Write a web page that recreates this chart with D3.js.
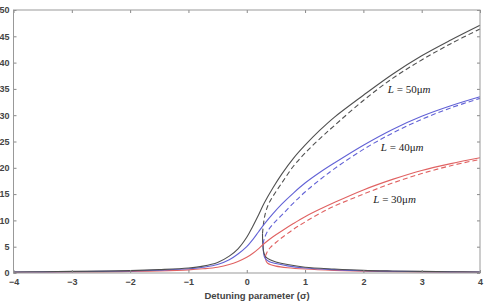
<!DOCTYPE html>
<html>
<head>
<meta charset="utf-8">
<script src="https://cdn.jsdelivr.net/npm/d3@7"></script>
<style>
  body { margin: 0; background: #fff; }
  svg { display: block; }
  .tick text { font-family: "Liberation Sans", Arial, sans-serif; font-weight: bold; font-size: 9px; fill: #444; }
  .tick line { stroke: #888; }
</style>
</head>
<body>
<svg id="chart" width="487" height="305"></svg>
<script>
// upper stable branch (solid)
var sUp = [-4, -3.5, -3, -2.5, -2, -1.5, -1, -0.75, -0.5, -0.3, -0.15, 0, 0.1, 0.2, 0.3, 0.45, 0.6, 0.8, 1, 1.25, 1.5, 2, 2.5, 3, 3.5, 4];
var blackUp = [0.2, 0.25, 0.3, 0.35, 0.45, 0.65, 0.95, 1.3, 2, 3.2, 4.6, 6.8, 8.8, 11, 13.3, 16.2, 18.8, 21.8, 24.3, 27.1, 29.6, 33.8, 37.8, 41.3, 44.3, 47.1];
var blueUp  = [0.18, 0.21, 0.25, 0.3, 0.38, 0.55, 0.8, 1.1, 1.6, 2.5, 3.6, 5, 6.3, 7.8, 9.3, 11.3, 13.1, 15.2, 17.1, 19.1, 20.9, 24.3, 27.3, 29.8, 31.8, 33.5];
var redUp   = [0.12, 0.15, 0.18, 0.22, 0.28, 0.4, 0.6, 0.8, 1.1, 1.6, 2.2, 3, 3.7, 4.6, 5.6, 6.9, 8, 9.4, 10.7, 12.1, 13.4, 15.8, 17.8, 19.5, 20.8, 21.9];

// unstable middle branch (dashed)
var sMidBlack = [0.27, 0.29, 0.32, 0.37, 0.45, 0.6, 0.8, 1, 1.25, 1.5, 2, 2.5, 3, 3.5, 4];
var blackMid  = [7.5, 9.6, 11.4, 13, 14.6, 17.1, 20.3, 22.8, 25.5, 28, 32.8, 37, 40.5, 43.6, 46.4];
var sMidBlue  = [0.28, 0.3, 0.35, 0.45, 0.6, 0.8, 1, 1.25, 1.5, 2, 2.5, 3, 3.5, 4];
var blueMid   = [5.5, 6.5, 7.8, 9.3, 11, 13.3, 15.4, 17.7, 19.8, 23.5, 26.6, 29.2, 31.4, 33.2];
var sMidRed   = [0.32, 0.35, 0.4, 0.5, 0.6, 0.8, 1, 1.25, 1.5, 2, 2.5, 3, 3.5, 4];
var redMid    = [3.2, 4, 4.8, 5.8, 6.7, 8.3, 9.7, 11.3, 12.7, 15, 17.1, 18.9, 20.4, 21.6];

// lower stable branch (solid)
var sLowBlack = [0.27, 0.275, 0.285, 0.3, 0.33, 0.4, 0.5, 0.7, 1, 1.5, 2, 2.5, 3, 3.5, 4];
var blackLow  = [7.5, 5.5, 4.3, 3.6, 3.0, 2.5, 2.1, 1.6, 1.1, 0.75, 0.5, 0.38, 0.3, 0.25, 0.2];
var sLowBlue  = [0.28, 0.284, 0.292, 0.305, 0.34, 0.4, 0.5, 0.7, 1, 1.5, 2, 2.5, 3, 3.5, 4];
var blueLow   = [5.5, 4.4, 3.6, 3.0, 2.5, 2.1, 1.8, 1.35, 0.95, 0.65, 0.44, 0.34, 0.27, 0.22, 0.18];
var sLowRed   = [0.32, 0.325, 0.335, 0.36, 0.4, 0.5, 0.7, 1, 1.5, 2, 2.5, 3, 3.5, 4];
var redLow    = [3.2, 2.6, 2.2, 1.85, 1.6, 1.3, 1.0, 0.75, 0.5, 0.35, 0.27, 0.21, 0.17, 0.14];

var xTicks = [-4, -3, -2, -1, 0, 1, 2, 3, 4];
var yTicks = [0, 5, 10, 15, 20, 25, 30, 35, 40, 45, 50];
var labels = ["50", "40", "30"];
var labelS = [2.42, 2.3, 2.17];
var labelV = [34.2, 23.1, 13.3];

var svg = d3.select("#chart");
var x = d3.scaleLinear().domain([-4, 4]).range([13.5, 480]);
var y = d3.scaleLinear().domain([0, 50]).range([273, 10]);

var colors = { black: "#505050", blue: "#6262d6", red: "#e06262" };

var line = d3.line()
    .x(function(d) { return x(d[0]); })
    .y(function(d) { return y(d[1]); })
    .curve(d3.curveCatmullRom.alpha(0.5));

function pairs(s, v) { return s.map(function(d, i) { return [d, v[i]]; }); }

var series = [
  { s: sLowRed, v: redLow, c: colors.red, dash: null },
  { s: sLowBlue, v: blueLow, c: colors.blue, dash: null },
  { s: sLowBlack, v: blackLow, c: colors.black, dash: null },
  { s: sMidRed, v: redMid, c: colors.red, dash: "5,3" },
  { s: sMidBlue, v: blueMid, c: colors.blue, dash: "5,3" },
  { s: sMidBlack, v: blackMid, c: colors.black, dash: "5,3" },
  { s: sUp, v: redUp, c: colors.red, dash: null },
  { s: sUp, v: blueUp, c: colors.blue, dash: null },
  { s: sUp, v: blackUp, c: colors.black, dash: null }
];

var g = svg.append("g");
series.forEach(function(d) {
  g.append("path")
    .attr("d", line(pairs(d.s, d.v)))
    .attr("fill", "none")
    .attr("stroke", d.c)
    .attr("stroke-width", 1.1)
    .attr("stroke-dasharray", d.dash);
});

// axes (box with inward ticks on all sides)
svg.append("g").attr("transform", "translate(0,273)")
  .call(d3.axisBottom(x).tickValues(xTicks).tickSizeInner(-3).tickSizeOuter(0).tickPadding(6))
  .call(function(a) { a.select(".domain").remove(); });
svg.append("g").attr("transform", "translate(0,10)")
  .call(d3.axisTop(x).tickValues(xTicks).tickSizeInner(-3).tickSizeOuter(0).tickFormat(""))
  .call(function(a) { a.select(".domain").remove(); });
svg.append("g").attr("transform", "translate(13.5,0)")
  .call(d3.axisLeft(y).tickValues(yTicks).tickSizeInner(-3).tickSizeOuter(0).tickPadding(4))
  .call(function(a) { a.select(".domain").remove(); });
svg.append("g").attr("transform", "translate(480,0)")
  .call(d3.axisRight(y).tickValues(yTicks).tickSizeInner(-3).tickSizeOuter(0).tickFormat(""))
  .call(function(a) { a.select(".domain").remove(); });

svg.append("rect")
  .attr("x", 13.5).attr("y", 10)
  .attr("width", 480 - 13.5).attr("height", 263)
  .attr("fill", "none").attr("stroke", "#999").attr("stroke-width", 1);

svg.append("text")
  .attr("x", 257).attr("y", 299)
  .attr("text-anchor", "middle")
  .style("font-family", "'Liberation Sans', Arial, sans-serif")
  .style("font-weight", "bold").style("font-size", "9.5px").style("fill", "#444")
  .text("Detuning parameter (σ)");

labels.forEach(function(t, i) {
  var txt = svg.append("text")
    .attr("x", x(labelS[i])).attr("y", y(labelV[i]))
    .style("font-family", "'Liberation Serif', 'Times New Roman', serif")
    .style("font-size", "11px").style("fill", "#222");
  txt.append("tspan").style("font-style", "italic").text("L");
  txt.append("tspan").text(" = " + t + "μ");
  txt.append("tspan").style("font-style", "italic").text("m");
});
</script>
</body>
</html>
